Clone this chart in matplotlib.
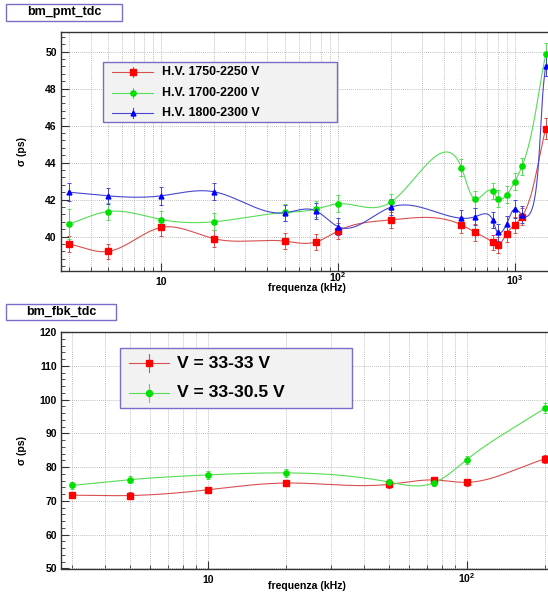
import numpy as np
import matplotlib
matplotlib.use("Agg")
import matplotlib.pyplot as plt
from matplotlib.patches import Rectangle
from matplotlib.lines import Line2D
from matplotlib.ticker import LogLocator, MultipleLocator, NullFormatter
from matplotlib.transforms import blended_transform_factory

plt.rcParams['font.family'] = ['Liberation Sans', 'DejaVu Sans']
plt.rcParams['font.weight'] = 'bold'
plt.rcParams['mathtext.fontset'] = 'custom'
plt.rcParams['mathtext.rm'] = 'Liberation Sans'
plt.rcParams['mathtext.bf'] = 'Liberation Sans:bold'

# bm_pmt_tdc data
pmt_freq = [3, 5, 10, 20, 50, 75, 100, 200, 500, 600, 750, 800, 900, 1000, 1100, 1500]
pmt_1750 = [39.60, 39.19, 40.49, 39.88, 39.75, 39.70, 40.30, 40.90, 40.63, 40.22, 39.68, 39.53, 40.15, 40.63, 41.08, 45.84]
pmt_1700 = [40.67, 41.35, 40.92, 40.80, 41.30, 41.48, 41.77, 41.87, 43.73, 42.02, 42.45, 42.05, 42.25, 42.96, 43.80, 49.88]
pmt_1800 = [42.40, 42.20, 42.20, 42.42, 41.28, 41.39, 40.54, 41.59, 40.99, 41.08, 40.90, 40.22, 40.67, 41.48, 41.17, 49.25]
pmt_err_1750 = [0.45, 0.42, 0.44, 0.45, 0.43, 0.45, 0.44, 0.45, 0.42, 0.44, 0.42, 0.43, 0.45, 0.44, 0.45, 0.55]
pmt_err_1700 = [0.80, 0.48, 0.46, 0.45, 0.44, 0.45, 0.45, 0.44, 0.45, 0.46, 0.44, 0.45, 0.46, 0.45, 0.45, 0.60]
pmt_err_1800 = [0.48, 0.45, 0.48, 0.47, 0.44, 0.45, 0.46, 0.45, 0.45, 0.46, 0.45, 0.46, 0.45, 0.47, 0.46, 0.55]
pmt_labels = ['H.V. 1750-2250 V', 'H.V. 1700-2200 V', 'H.V. 1800-2300 V']
pmt_decades = [10, 100, 1000]

# bm_fbk_tdc data
fbk_freq = [3, 5, 10, 20, 50, 75, 100, 200]
fbk_33 = [71.7, 71.6, 73.3, 75.3, 74.9, 76.2, 75.5, 82.4]
fbk_305 = [74.6, 76.3, 77.7, 78.3, 75.6, 75.4, 82.2, 97.4]
fbk_err_33 = [0.9, 1.0, 0.9, 1.0, 1.0, 1.0, 1.0, 1.2]
fbk_err_305 = [1.0, 1.0, 1.2, 1.1, 1.0, 1.0, 1.2, 1.5]
fbk_labels = ['V = 33-33 V', 'V = 33-30.5 V']
fbk_decades = [10, 100]

W, H = 548, 596
BORDER = '#7b6cc8'
styles = [
    dict(mc='#ff0000', lc='#d85050', marker='s', ms=4.2),
    dict(mc='#00e000', lc='#55dd55', marker='o', ms=3.8),
    dict(mc='#0000ff', lc='#4646d0', marker='^', ms=3.5),
]


def fx(px):
    return px / W


def fy(py):
    return 1 - py / H


def cubic(t, v, ts):
    """cubic spline v(t) with ends clamped to the chord slope"""
    k = len(t)
    h = np.diff(t)
    A = np.zeros((k, k))
    b = np.zeros(k)
    d0 = (v[1] - v[0]) / h[0]
    d1 = (v[-1] - v[-2]) / h[-1]
    A[0, 0], A[0, 1] = 2 * h[0], h[0]
    A[-1, -2], A[-1, -1] = h[-1], 2 * h[-1]
    b[0] = 6 * ((v[1] - v[0]) / h[0] - d0)
    b[-1] = 6 * (d1 - (v[-1] - v[-2]) / h[-1])
    for i in range(1, k - 1):
        A[i, i - 1] = h[i - 1]
        A[i, i] = 2 * (h[i - 1] + h[i])
        A[i, i + 1] = h[i]
        b[i] = 6 * ((v[i + 1] - v[i]) / h[i] - (v[i] - v[i - 1]) / h[i - 1])
    M = np.linalg.solve(A, b)
    idx = np.clip(np.searchsorted(t, ts) - 1, 0, k - 2)
    t0, t1 = t[idx], t[idx + 1]
    hh = t1 - t0
    a0, a1 = t1 - ts, ts - t0
    return (M[idx] * a0 ** 3 + M[idx + 1] * a1 ** 3) / (6 * hh) \
        + (v[idx] / hh - M[idx] * hh / 6) * a0 + (v[idx + 1] / hh - M[idx + 1] * hh / 6) * a1


def smooth(ax, x, y, wy=0.4, n=800):
    """smooth curve through the points in screen space (ROOT "C" look)"""
    pts = ax.transData.transform(np.column_stack([x, y]))
    d = np.diff(pts, axis=0)
    t = np.concatenate([[0], np.cumsum(np.hypot(d[:, 0], wy * d[:, 1]))])
    ts = np.linspace(0, t[-1], n)
    sx = cubic(t, pts[:, 0], ts)
    sy = cubic(t, pts[:, 1], ts)
    sx = np.clip(np.maximum.accumulate(sx), pts[0, 0], pts[-1, 0])
    out = ax.transData.inverted().transform(np.column_stack([sx, sy]))
    return out[:, 0], out[:, 1]


def setup_axes(ax, xlim, ylim, major, minor, decades, raised):
    ax.set_xscale('log')
    ax.set_xlim(*xlim)
    ax.set_ylim(*ylim)
    ax.xaxis.set_major_locator(LogLocator(base=10))
    ax.xaxis.set_minor_locator(LogLocator(base=10, subs=np.arange(2, 10)))
    ax.xaxis.set_major_formatter(NullFormatter())
    ax.xaxis.set_minor_formatter(NullFormatter())
    ax.yaxis.set_major_locator(MultipleLocator(major))
    ax.yaxis.set_minor_locator(MultipleLocator(minor))
    ax.tick_params(which='both', direction='in', color='#333333', labelsize=7.5)
    ax.tick_params(which='major', length=6)
    ax.tick_params(which='minor', length=3.2)
    ax.tick_params(axis='y', pad=3)
    ax.grid(True, which='both', axis='x', color='#a8a8a8', ls=(0, (1, 1.5)), lw=0.6)
    ax.grid(True, which='major', axis='y', color='#a8a8a8', ls=(0, (1, 1.5)), lw=0.6)
    for s in ax.spines.values():
        s.set_color('#333333')
        s.set_linewidth(1.0)
    # ROOT style log labels: 10, 10^2, 10^3
    trans = blended_transform_factory(ax.transData, ax.transAxes)
    for v in decades:
        e = int(round(np.log10(v)))
        lab = '10' if e == 1 else r'$\mathbf{10^{%d}}$' % e
        off = -7.8 if v in raised else -10.5
        ax.annotate(lab, xy=(v, 0), xycoords=trans, xytext=(0, off), textcoords='offset points',
                    ha='center', va='baseline', fontsize=7.5, fontweight='bold')
    ax.set_xlabel('frequenza (kHz)', fontsize=7.6, fontweight='bold', va='center')
    ax.set_ylabel('σ (ps)', fontsize=7.6, fontweight='bold')


def draw_series(ax, freq, vals, errs, st):
    xs, ys = smooth(ax, freq, vals)
    ax.plot(xs, ys, color=st['lc'], lw=0.8, zorder=3)
    ax.errorbar(freq, vals, yerr=errs, fmt=st['marker'], color=st['mc'], ecolor=st['lc'],
                elinewidth=0.7, capsize=1.2, capthick=0.7, ms=st['ms'], mec=st['mc'], zorder=4)


def title_box(x0, y0, x1, y1, text, fs):
    fig.add_artist(Rectangle((fx(x0), fy(y1)), (x1 - x0) / W, (y1 - y0) / H, transform=fig.transFigure,
                             facecolor='white', edgecolor=BORDER, lw=1.0))
    fig.text(fx((x0 + x1) / 2), fy((y0 + y1) / 2), text, ha='center', va='center', fontsize=fs,
             fontweight='bold')


def legend_box(x0, y0, x1, y1, labels, rows, lx0, lx1, tx, fs, bar, scale):
    fig.add_artist(Rectangle((fx(x0), fy(y1)), (x1 - x0) / W, (y1 - y0) / H, transform=fig.transFigure,
                             facecolor='#f2f2f2', edgecolor=BORDER, lw=1.0))
    for lab, ry, st in zip(labels, rows, styles):
        fig.add_artist(Line2D([fx(lx0), fx(lx1)], [fy(ry), fy(ry)], transform=fig.transFigure,
                              color=st['lc'], lw=0.8))
        mx = (lx0 + lx1) / 2
        fig.add_artist(Line2D([fx(mx), fx(mx)], [fy(ry - bar), fy(ry + bar)], transform=fig.transFigure,
                              color=st['lc'], lw=0.8))
        fig.add_artist(Line2D([fx(mx)], [fy(ry)], transform=fig.transFigure, marker=st['marker'],
                              color=st['mc'], ms=st['ms'] * scale, ls='none'))
        fig.text(fx(tx), fy(ry), lab, ha='left', va='center', fontsize=fs, fontweight='bold')


fig = plt.figure(figsize=(W / 100, H / 100), dpi=100)

# top panel
ax1 = fig.add_axes([fx(61), fy(270.7), (553 - 61) / W, (270.7 - 32.3) / H])
setup_axes(ax1, (2.72, 1647), (38.15, 51.05), 2, 0.4, pmt_decades, [100])
for vals, errs, st in zip([pmt_1750, pmt_1700, pmt_1800],
                          [pmt_err_1750, pmt_err_1700, pmt_err_1800], styles):
    draw_series(ax1, pmt_freq, vals, errs, st)
ax1.xaxis.set_label_coords(0.5, -17.8 / 238.4)
ax1.yaxis.set_label_coords(-0.069, 0.5)

title_box(6, 4.3, 122, 20.7, 'bm_pmt_tdc', 9)
legend_box(103.3, 62.3, 336.7, 121.7, pmt_labels, [72.3, 92.7, 113.3], 111.7, 153.3, 161.7, 8.9, 5, 1.0)

# bottom panel
ax2 = fig.add_axes([fx(61), fy(568.5), (553 - 61) / W, (568.5 - 332) / H])
setup_axes(ax2, (2.71, 215.4), (50, 120), 10, 2, fbk_decades, [])
for vals, errs, st in zip([fbk_33, fbk_305], [fbk_err_33, fbk_err_305], styles):
    draw_series(ax2, fbk_freq, vals, errs, st)
ax2.xaxis.set_label_coords(0.5, -17.8 / 236.5)
ax2.yaxis.set_label_coords(-0.069, 0.5)

title_box(6, 304, 116, 320, 'bm_fbk_tdc', 9)
legend_box(120, 348.3, 352, 408.3, fbk_labels, [363.3, 392.7], 128.7, 169, 176.6, 12.6, 9, 1.15)

fig.savefig('out.png', dpi=100)
